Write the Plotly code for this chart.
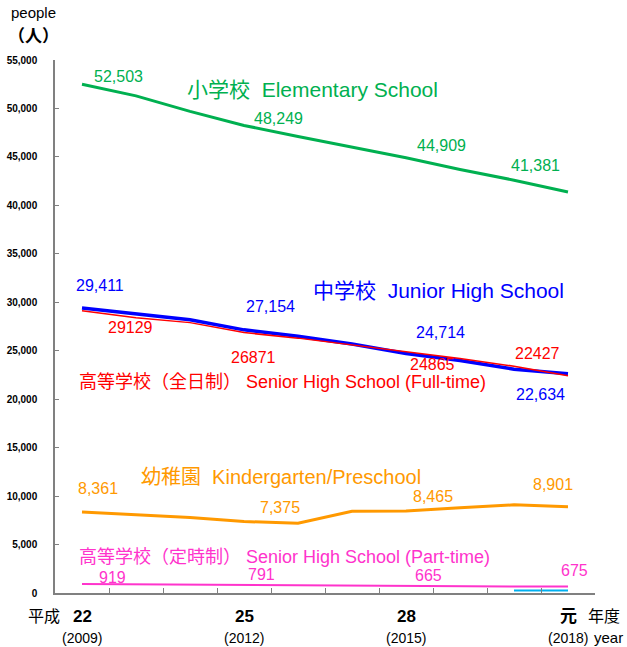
import plotly.graph_objects as go

# ---- data ----
years = list(range(10))  # 平成22 (2009) ... 元 (2018)
era_labels = ["22", "25", "28", "元"]
western_labels = ["(2009)", "(2012)", "(2015)", "(2018)"]
label_idx = [0, 3, 6, 9]

elementary = [52503, 51300, 49700, 48249, 47100, 46000, 44909, 43700, 42600, 41381]
junior = [29411, 28800, 28200, 27154, 26500, 25700, 24714, 24000, 23100, 22634]
senior_ft = [29129, 28400, 27900, 26871, 26300, 25600, 24865, 24200, 23400, 22427]
kinder = [8361, 8100, 7800, 7375, 7200, 8440, 8465, 8800, 9100, 8901]
senior_pt = [919, 890, 840, 791, 750, 700, 665, 650, 660, 675]
compulsory = [None, None, None, None, None, None, None, None, 250, 260]

# value labels (shown values)
elem_lbl = ["52,503", "48,249", "44,909", "41,381"]
jun_lbl = ["29,411", "27,154", "24,714", "22,634"]
sft_lbl = ["29129", "26871", "24865", "22427"]
kin_lbl = ["8,361", "7,375", "8,465", "8,901"]
spt_lbl = ["919", "791", "665", "675"]

GREEN = "#00b050"
BLUE = "#0000ff"
RED = "#ff0000"
ORANGE = "#ff9900"
PINK = "#ff33cc"
LBLUE = "#00b0f0"
FONT = "Liberation Sans, Arial, Noto Sans CJK JP, sans-serif"

fig = go.Figure()

def add_line(vals, color, width):
    fig.add_trace(go.Scatter(x=years, y=vals, mode="lines",
                             line=dict(color=color, width=width),
                             hoverinfo="skip", showlegend=False))

add_line(elementary, GREEN, 3)
add_line(kinder, ORANGE, 3)
add_line(senior_pt, PINK, 2)
add_line(compulsory, LBLUE, 2)
add_line(junior, BLUE, 3.5)
add_line(senior_ft, RED, 1.5)

# value label offsets (pixels) - style
offsets = {
    "elem": [(36, 8), (34, 7), (35, 12), (-33, 26)],
    "jun": [(18, 22), (26, 23), (34, 21), (-28, -21)],
    "sft": [(48, -17), (9, -25), (26, -12), (-31, 22)],
    "kin": [(16, 23), (36, 14), (27, 14), (-15, 22)],
    "spt": [(30, 7), (17, 11), (22, 11), (6, 16)],
}

def add_vlabels(vals, texts, offs, color):
    for k, i in enumerate(label_idx):
        dx, dy = offs[k]
        fig.add_annotation(x=i, y=vals[i], xref="x", yref="y", text=texts[k],
                           showarrow=False, xshift=dx, yshift=dy,
                           font=dict(family=FONT, size=16, color=color))

add_vlabels(elementary, elem_lbl, offsets["elem"], GREEN)
add_vlabels(junior, jun_lbl, offsets["jun"], BLUE)
add_vlabels(senior_ft, sft_lbl, offsets["sft"], RED)
add_vlabels(kinder, kin_lbl, offsets["kin"], ORANGE)
add_vlabels(senior_pt, spt_lbl, offsets["spt"], PINK)

# series names
names = [
    ("小学校  Elementary School", 1.907, 52007, GREEN, 21),
    ("中学校  Junior High School", 4.24, 31266, BLUE, 21),
    ("高等学校（全日制） Senior High School (Full-time)", -0.093, 21776, RED, 18),
    ("幼稚園  Kindergarten/Preschool", 1.056, 11970, ORANGE, 20),
    ("高等学校（定時制） Senior High School (Part-time)", -0.093, 3715, PINK, 18),
]
for txt, x, y, c, s in names:
    fig.add_annotation(x=x, y=y, xref="x", yref="y", text=txt, showarrow=False,
                       xanchor="left", yanchor="middle",
                       font=dict(family=FONT, size=s, color=c))

# x-axis labels
for k, i in enumerate(label_idx):
    fig.add_annotation(x=i, y=-23 / 533, xref="x", yref="paper", text="<b>" + era_labels[k] + "</b>",
                       showarrow=False, yanchor="middle",
                       font=dict(family=FONT, size=17, color="black"))
    fig.add_annotation(x=i, y=-45 / 533, xref="x", yref="paper", text=western_labels[k],
                       showarrow=False, yanchor="middle",
                       font=dict(family=FONT, size=14, color="black"))

def paper_text(txt, px, py, size):
    fig.add_annotation(xref="paper", yref="paper", x=(px - 55) / 540, y=(593 - py) / 533,
                       text=txt, showarrow=False, xanchor="left", yanchor="middle",
                       font=dict(family=FONT, size=size, color="black"))

paper_text("平成", 26, 616, 16)
paper_text("年度", 586, 616, 16)
paper_text("year", 592, 637, 15)
paper_text("people", 9, 13, 15)
paper_text("<b>（人）</b>", 6, 36, 17)

fig.update_layout(
    width=627, height=647,
    margin=dict(l=55, r=32, t=60, b=54, autoexpand=False),
    plot_bgcolor="white", paper_bgcolor="white",
    xaxis=dict(range=[-0.5, 9.5], tickmode="array",
               tickvals=[i - 0.5 for i in range(11)],
               showticklabels=False, ticks="inside", ticklen=5,
               tickcolor="#808080", showline=True, linecolor="#808080",
               linewidth=1.5, showgrid=False, zeroline=False, automargin=False),
    yaxis=dict(range=[0, 55000], tickmode="array",
               tickvals=list(range(0, 55001, 5000)),
               tickformat=",d", ticks="inside", ticklen=4, tickcolor="#808080",
               showline=True, linecolor="#808080", linewidth=1.5,
               showgrid=False, zeroline=False, ticklabelstandoff=14, automargin=False,
               tickfont=dict(family=FONT, size=10, color="black", weight="bold")),
)

fig.write_html("out.html", config={"displayModeBar": False},
               post_script="document.body.style.margin='0';")
